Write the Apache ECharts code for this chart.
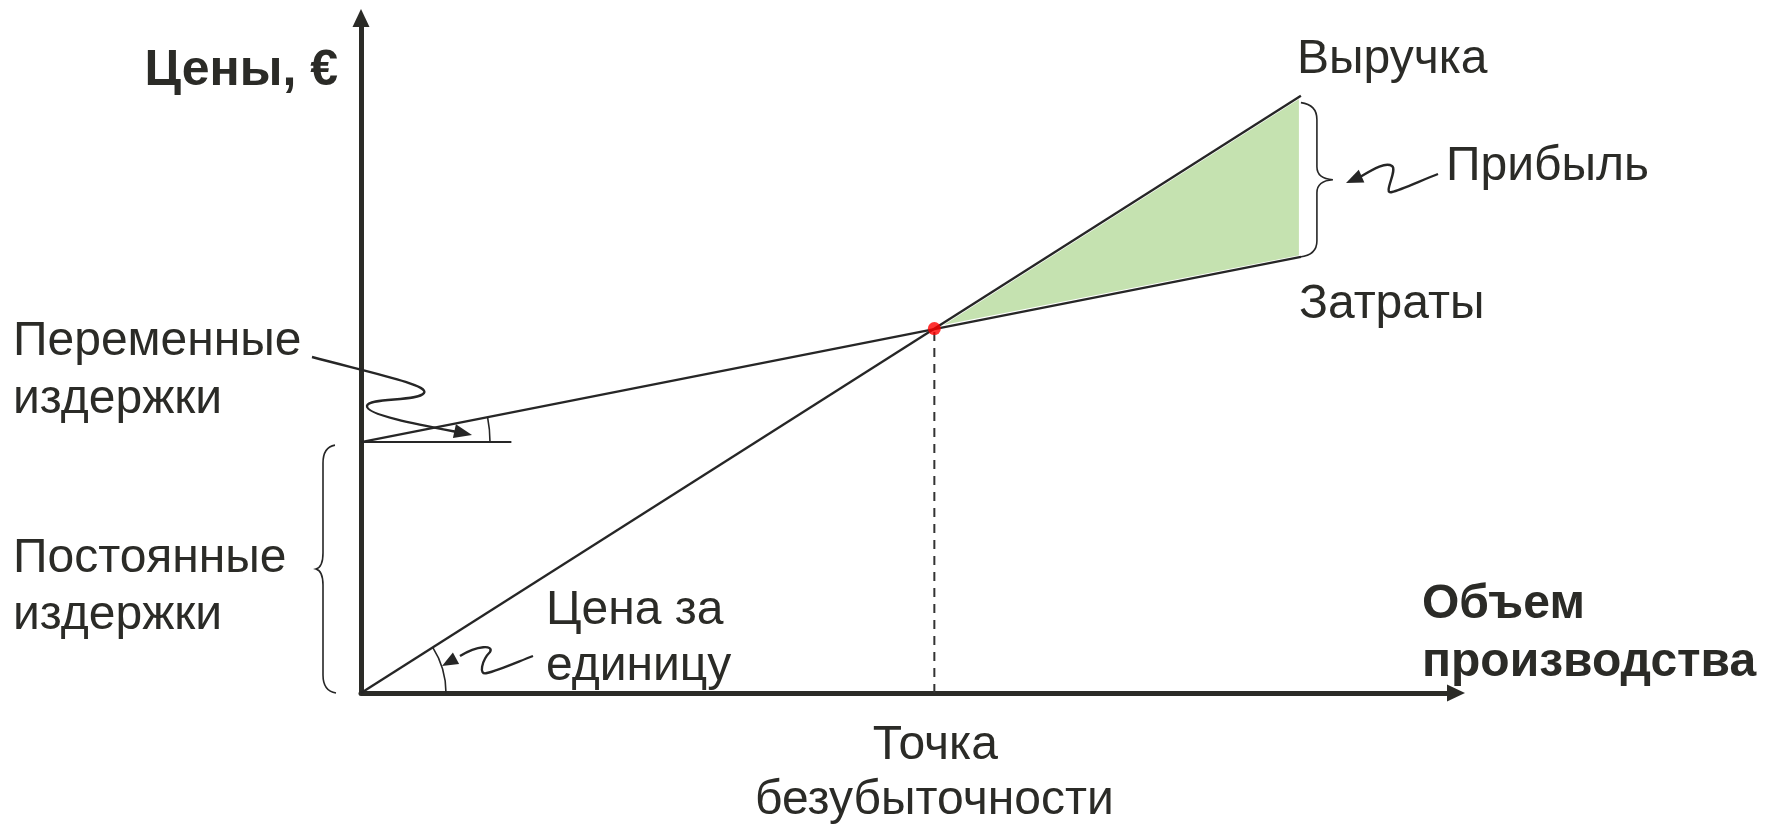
<!DOCTYPE html>
<html><head><meta charset="utf-8">
<script src="https://cdn.jsdelivr.net/npm/echarts@6/dist/echarts.min.js"></script>
<style>html,body{margin:0;padding:0;background:#fff}#c{width:1775px;height:825px}</style>
</head><body><div id="c"></div>
<script>
// ---- data (arbitrary units) ----
const volume = [0, 100];          // production volume at start / end of lines
const revenue = [0, 100];         // revenue line values
const costs = [42, 73];           // total cost line values
const fixedCost = 42;             // fixed costs level
const breakEven = [61, 61];       // break-even point (volume, price)
const profitZone = [[61, 61], [100, 100], [100, 73]];
const axisMax = { x: 116.5, y: 113 };
const angleRefLength = 16;        // short horizontal reference line at fixed-cost level

const FONT = '"Liberation Sans", Arial, Helvetica, sans-serif';
const INK = '#2b2b27';
const LINE = '#262626';

const chart = echarts.init(document.getElementById('c'), null, { renderer: 'canvas' });

const axisCommon = {
  type: 'value', min: 0,
  axisLine: { show: true, onZero: false, lineStyle: { color: INK, width: 5 }, symbol: ['none', 'triangle'], symbolSize: [17, 18] },
  axisTick: { show: false }, axisLabel: { show: false }, splitLine: { show: false }
};

function T(text, x, base, o) {
  o = o || {};
  const size = o.size || 48;
  return {
    type: 'text', silent: true,
    style: {
      text: text, x: x, y: base - 0.31 * size,
      fill: INK, font: (o.bold ? 'bold ' : '') + size + 'px ' + FONT,
      align: o.align || 'left', verticalAlign: 'middle'
    }
  };
}
function arrowHead(tip, from, len, half) {
  const dx = tip[0] - from[0], dy = tip[1] - from[1];
  const d = Math.hypot(dx, dy), ux = dx / d, uy = dy / d;
  const bx = tip[0] - ux * len, by = tip[1] - uy * len;
  return { type: 'polygon', silent: true,
    shape: { points: [tip, [bx - uy * half, by + ux * half], [bx + uy * half, by - ux * half]] },
    style: { fill: LINE } };
}
const stroke = { stroke: LINE, lineWidth: 2.4, fill: null };
const thin = { stroke: LINE, lineWidth: 1.6, fill: null };

function annotations(params, api) {
  const fc = api.coord([0, fixedCost]);
  const org = api.coord([0, 0]);
  const rEnd = api.coord([volume[1], revenue[1]]);
  const cEnd = api.coord([volume[1], costs[1]]);
  const be = api.coord(breakEven);
  const costAng = Math.atan2(cEnd[1] - fc[1], cEnd[0] - fc[0]);
  const revAng = Math.atan2(rEnd[1] - org[1], rEnd[0] - org[0]);

  const lt = fc[1] + 3, lb = org[1], lm = (lt + lb) / 2, lx = fc[0];
  const leftBrace = `M${lx-26},${lt} Q${lx-38},${lt+2} ${lx-38},${lt+18} L${lx-38},${lm-16} Q${lx-38},${lm-2} ${lx-45},${lm} Q${lx-38},${lm+2} ${lx-38},${lm+16} L${lx-38},${lb-18} Q${lx-38},${lb-2} ${lx-25},${lb}`;
  const rt = rEnd[1] + 7, rb = cEnd[1], rm = (rt + rb) / 2, rx = rEnd[0];
  const rightBrace = `M${rx},${rt} Q${rx+16},${rt+2} ${rx+16},${rt+17} L${rx+16},${rm-13} Q${rx+16},${rm-1} ${rx+32},${rm} Q${rx+16},${rm+1} ${rx+16},${rm+13} L${rx+16},${rb-16} Q${rx+16},${rb-2} ${rx-1},${rb}`;

  return {
    type: 'group',
    children: [
      { type: 'arc', silent: true, shape: { cx: fc[0], cy: fc[1], r: 129, startAngle: costAng, endAngle: 0, clockwise: true }, style: thin },
      { type: 'arc', silent: true, shape: { cx: org[0], cy: org[1], r: 85, startAngle: revAng, endAngle: 0, clockwise: true }, style: thin },
      { type: 'path', silent: true, shape: { pathData: leftBrace }, style: thin },
      { type: 'path', silent: true, shape: { pathData: rightBrace }, style: thin },
      // squiggle: variable costs
      { type: 'path', silent: true, shape: { pathData: 'M312,357 C372,373 430,385 424,393 C418,402 368,397 367,406 C366,415 420,425 457,432' }, style: stroke },
      arrowHead([472, 435], [440, 428], 18, 7),
      // squiggle: price per unit
      { type: 'path', silent: true, shape: { pathData: 'M533,656 C515,663 497,671 487,673 C478,676 482,660 490,652 C494,645 478,645 460,656' }, style: stroke },
      arrowHead([442, 666], [462, 655], 16, 6.5),
      // squiggle: profit
      { type: 'path', silent: true, shape: { pathData: 'M1438,174 C1420,181 1400,190 1392,192 C1382,195 1398,170 1392,166 C1386,162 1375,168 1360,177' }, style: stroke },
      arrowHead([1346, 183], [1362, 176], 17, 7),
      // texts
      T('Цены, €', 338, 87, { bold: true, size: 50, align: 'right' }),
      T('Выручка', 1297, 75),
      T('Прибыль', 1446, 182),
      T('Затраты', 1299, 320),
      T('Переменные', 13, 357), T('издержки', 13, 415),
      T('Постоянные', 13, 574), T('издержки', 13, 631),
      T('Цена за', 546, 626), T('единицу', 546, 682),
      T('Объем', 1422, 620, { bold: true }), T('производства', 1422, 678, { bold: true }),
      T('Точка', be[0] + 1, 761, { align: 'center' }), T('безубыточности', be[0], 816, { align: 'center' })
    ]
  };
}

chart.setOption({
  animation: false,
  backgroundColor: '#fff',
  grid: { left: 361, right: 319, top: 18, bottom: 132, containLabel: false },
  xAxis: Object.assign({}, axisCommon, { max: axisMax.x }),
  yAxis: Object.assign({}, axisCommon, { max: axisMax.y }),
  series: [
    {
      type: 'custom', silent: true, z: 1,
      data: [profitZone[0]],
      renderItem: (params, api) => ({
        type: 'polygon',
        shape: { points: profitZone.map(p => api.coord(p)) },
        style: { fill: '#c5e2b0', stroke: '#ffffff', lineWidth: 4 }
      })
    },
    { name: 'Выручка', type: 'line', z: 3, symbol: 'none', silent: true,
      data: volume.map((v, i) => [v, revenue[i]]),
      lineStyle: { color: LINE, width: 2.3 } },
    { name: 'Затраты', type: 'line', z: 3, symbol: 'none', silent: true,
      data: volume.map((v, i) => [v, costs[i]]),
      lineStyle: { color: LINE, width: 2.3 } },
    { type: 'line', z: 3, symbol: 'none', silent: true,
      data: [[0, fixedCost], [angleRefLength, fixedCost]],
      lineStyle: { color: LINE, width: 2 } },
    { type: 'line', z: 2, symbol: 'none', silent: true,
      data: [[breakEven[0], 0], breakEven],
      lineStyle: { color: '#333', width: 2, type: [9, 7] } },
    { type: 'scatter', z: 5, silent: true, data: [breakEven], symbolSize: 13,
      itemStyle: { color: '#ff0000' } },
    { type: 'custom', z: 10, silent: true, clip: false, data: [[0, 0]], renderItem: annotations }
  ]
});
</script></body></html>
